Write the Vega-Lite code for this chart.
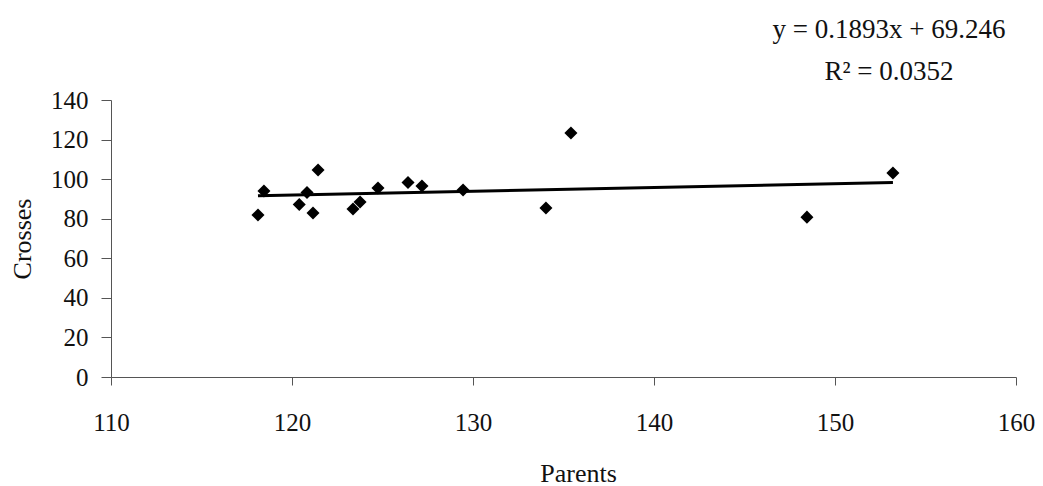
{
  "$schema": "https://vega.github.io/schema/vega-lite/v6.json",
  "width": 905,
  "height": 277,
  "autosize": {"type": "none"},
  "padding": {"left": 111, "top": 100, "right": 27, "bottom": 109},
  "background": "white",
  "config": {
    "view": {"stroke": null},
    "font": "Liberation Serif",
    "axis": {
      "grid": false,
      "domainColor": "#555555",
      "tickColor": "#555555",
      "labelFont": "Liberation Serif",
      "labelFontSize": 25,
      "labelColor": "#111111",
      "titleFont": "Liberation Serif",
      "titleFontSize": 26,
      "titleFontWeight": "normal",
      "titleColor": "#111111"
    }
  },
  "datasets": {
    "pairs": [
      {"parents": 118.12, "crosses": 81.9},
      {"parents": 118.45, "crosses": 94.0},
      {"parents": 120.4, "crosses": 87.2},
      {"parents": 120.83, "crosses": 93.2},
      {"parents": 121.16, "crosses": 82.9},
      {"parents": 121.44, "crosses": 104.6},
      {"parents": 123.37, "crosses": 84.9},
      {"parents": 123.76, "crosses": 88.4},
      {"parents": 124.75, "crosses": 95.5},
      {"parents": 126.41, "crosses": 98.3},
      {"parents": 127.18, "crosses": 96.5},
      {"parents": 129.45, "crosses": 94.5},
      {"parents": 134.03, "crosses": 85.4},
      {"parents": 135.41, "crosses": 123.3},
      {"parents": 148.45, "crosses": 80.8},
      {"parents": 153.2, "crosses": 103.1}
    ],
    "trend": [
      {"parents": 118.12, "crosses": 91.61},
      {"parents": 153.2, "crosses": 98.25}
    ],
    "equation": [
      {"parents": 152.98, "crosses": 175.3, "label": "y = 0.1893x + 69.246"},
      {"parents": 152.98, "crosses": 154.1, "label": "R² = 0.0352"}
    ]
  },
  "encoding": {
    "x": {
      "field": "parents",
      "type": "quantitative",
      "scale": {"domain": [110, 160], "nice": false, "zero": false},
      "axis": {
        "title": "Parents",
        "values": [110, 120, 130, 140, 150, 160],
        "tickSize": 8,
        "labelPadding": 25,
        "labelOverlap": false,
        "labelFlush": false,
        "titlePadding": 25,
        "titleX": 467
      }
    },
    "y": {
      "field": "crosses",
      "type": "quantitative",
      "scale": {"domain": [0, 140], "nice": false},
      "axis": {
        "title": "Crosses",
        "values": [0, 20, 40, 60, 80, 100, 120, 140],
        "tickCount": 8,
        "tickSize": 10,
        "labelPadding": 13,
        "labelOverlap": false,
        "labelFlush": false,
        "labelBound": false,
        "titlePadding": 15
      }
    }
  },
  "layer": [
    {
      "data": {"name": "trend"},
      "mark": {"type": "line", "color": "#000000", "strokeWidth": 3}
    },
    {
      "data": {"name": "pairs"},
      "mark": {"type": "point", "shape": "diamond", "filled": true, "color": "#000000", "size": 170, "opacity": 1}
    },
    {
      "data": {"name": "equation"},
      "mark": {"type": "text", "font": "Liberation Serif", "fontSize": 27, "align": "center", "baseline": "middle", "color": "#111111"},
      "encoding": {
        "text": {"field": "label"}
      }
    }
  ]
}
